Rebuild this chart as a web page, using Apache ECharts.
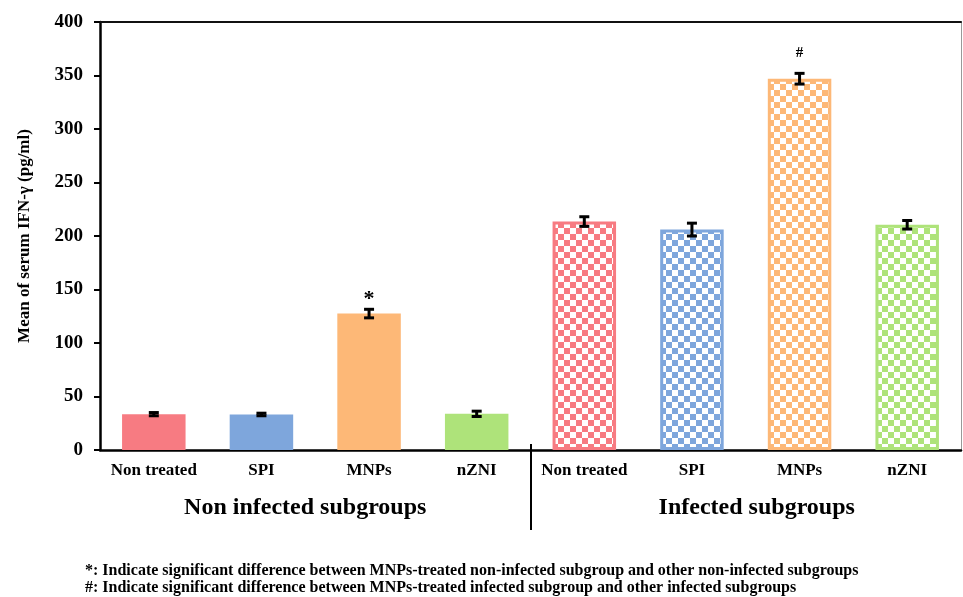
<!DOCTYPE html>
<html>
<head>
<meta charset="utf-8">
<script src="https://cdn.jsdelivr.net/npm/echarts@6/dist/echarts.min.js"></script>
<style>
  html, body { margin: 0; padding: 0; background: #fff; }
  #chart { width: 963px; height: 597px; }
</style>
</head>
<body>
<div id="chart"></div>
<script>
// Serum IFN-γ by treatment, in non-infected and infected subgroups
const categories = ['Non treated', 'SPI', 'MNPs', 'nZNI', 'Non treated', 'SPI', 'MNPs', 'nZNI'];
const groups = ['Non infected subgroups', 'Infected subgroups'];
const nonInfectedMeans = [33.5, 33.2, 127.5, 33.8];
const nonInfectedErr = [1.5, 1.2, 4, 2.5];
const infectedMeans = [213.5, 206, 347, 210.5];
const infectedErr = [4.5, 6, 5, 4];
const significance = ['', '', '*', '', '', '', '#', ''];
const yTicks = { min: 0, max: 400, step: 50 };
const footnotes = [
  '*: Indicate significant difference between MNPs-treated non-infected subgroup and other non-infected subgroups',
  '#: Indicate significant difference between MNPs-treated infected subgroup and other infected subgroups'
];

const treatmentColors = ['#f77b82', '#7ea6dc', '#fdb877', '#aee37a'];
const SERIF = '"Liberation Serif", "Times New Roman", serif';

// Checkerboard fill used for the infected subgroups
function checker(color) {
  const cell = 6;
  const c = document.createElement('canvas');
  c.width = c.height = cell * 2;
  const ctx = c.getContext('2d');
  ctx.fillStyle = '#ffffff';
  ctx.fillRect(0, 0, cell * 2, cell * 2);
  ctx.fillStyle = color;
  ctx.fillRect(0, 0, cell, cell);
  ctx.fillRect(cell, cell, cell, cell);
  return { image: c, repeat: 'repeat' };
}

const barData = nonInfectedMeans.map((v, i) => ({
  value: v,
  itemStyle: { color: treatmentColors[i] }
})).concat(infectedMeans.map((v, i) => ({
  value: v,
  itemStyle: { color: checker(treatmentColors[i]), borderColor: treatmentColors[i], borderWidth: 3 }
})));

const means = nonInfectedMeans.concat(infectedMeans);
const errs = nonInfectedErr.concat(infectedErr);
const errData = means.map((m, i) => [i, m - errs[i], m + errs[i]]);

const footnoteGraphics = footnotes.map((t, i) => ({
  type: 'text',
  left: 85,
  top: 563 + i * 17,
  style: {
    text: t,
    fill: '#000',
    font: 'bold 16px ' + SERIF
  }
}));

const chart = echarts.init(document.getElementById('chart'), null, { renderer: 'canvas' });

chart.setOption({
  animation: false,
  grid: { left: 100, right: 2, top: 22, bottom: 147, containLabel: false },
  xAxis: [
    {
      type: 'category',
      data: categories,
      axisLine: { lineStyle: { color: '#000', width: 2.5 } },
      axisTick: { alignWithLabel: true, length: 5, lineStyle: { color: '#000', width: 2 } },
      axisLabel: { color: '#000', fontFamily: SERIF, fontWeight: 'bold', fontSize: 17, margin: 12, interval: 0 }
    },
    {
      type: 'category',
      position: 'top',
      data: categories,
      axisLine: { onZero: false, lineStyle: { color: '#111', width: 2 } },
      axisTick: { show: false },
      axisLabel: { show: false }
    },
    {
      type: 'category',
      position: 'bottom',
      data: [
        { value: groups[0], textStyle: { padding: [0, 20, 0, 0] } },
        { value: groups[1], textStyle: { padding: [0, 0, 0, 22] } }
      ],
      axisLine: { show: false, onZero: false },
      axisTick: { show: false },
      axisLabel: { color: '#000', fontFamily: SERIF, fontWeight: 'bold', fontSize: 24, margin: 46, interval: 0 }
    }
  ],
  yAxis: [
    {
      type: 'value',
      min: yTicks.min,
      max: yTicks.max,
      interval: yTicks.step,
      name: 'Mean of serum IFN-γ (pg/ml)',
      nameLocation: 'middle',
      nameGap: 67,
      nameTextStyle: { color: '#000', fontFamily: SERIF, fontWeight: 'bold', fontSize: 17 },
      axisLine: { show: true, lineStyle: { color: '#000', width: 2.5 } },
      axisTick: { show: true, length: 6, lineStyle: { color: '#000', width: 2 } },
      axisLabel: { color: '#000', fontFamily: SERIF, fontWeight: 'bold', fontSize: 19, margin: 17 },
      splitLine: { show: false }
    },
    {
      type: 'value',
      position: 'right',
      min: yTicks.min,
      max: yTicks.max,
      axisLine: { show: true, onZero: false, lineStyle: { color: '#999', width: 1 } },
      axisTick: { show: false },
      axisLabel: { show: false },
      splitLine: { show: false }
    }
  ],
  series: [
    {
      type: 'bar',
      name: 'IFN-γ',
      xAxisIndex: 0,
      yAxisIndex: 0,
      barWidth: '59%',
      data: barData
    },
    {
      type: 'custom',
      name: 'SD',
      xAxisIndex: 0,
      yAxisIndex: 0,
      z: 5,
      data: errData,
      renderItem: function (params, api) {
        const x = api.value(0);
        const lo = api.coord([x, api.value(1)]);
        const hi = api.coord([x, api.value(2)]);
        const half = 5;
        const style = { stroke: '#000', lineWidth: 3 };
        const children = [
          { type: 'line', shape: { x1: hi[0], y1: hi[1], x2: lo[0], y2: lo[1] }, style: style },
          { type: 'line', shape: { x1: hi[0] - half, y1: hi[1], x2: hi[0] + half, y2: hi[1] }, style: style },
          { type: 'line', shape: { x1: lo[0] - half, y1: lo[1], x2: lo[0] + half, y2: lo[1] }, style: style }
        ];
        const mark = significance[params.dataIndex];
        if (mark) {
          const isStar = mark === '*';
          children.push({
            type: 'text',
            style: {
              text: mark,
              x: hi[0],
              y: hi[1] - (isStar ? -1 : 13),
              textAlign: 'center',
              textVerticalAlign: 'bottom',
              fill: '#000',
              font: 'bold ' + (isStar ? 22 : 15) + 'px ' + SERIF
            }
          });
        }
        return { type: 'group', children: children };
      }
    }
  ],
  graphic: footnoteGraphics
});

// Divider between the two subgroup blocks, placed on the category boundary
const leftPx = chart.convertToPixel({ xAxisIndex: 0 }, 3);
const rightPx = chart.convertToPixel({ xAxisIndex: 0 }, 4);
const axisY = chart.convertToPixel({ yAxisIndex: 0 }, 0);
const divX = Math.round((leftPx + rightPx) / 2);
chart.setOption({
  graphic: footnoteGraphics.concat([{
    type: 'line',
    shape: { x1: divX, y1: axisY - 6, x2: divX, y2: axisY + 80 },
    style: { stroke: '#000', lineWidth: 2 }
  }])
});
</script>
</body>
</html>
